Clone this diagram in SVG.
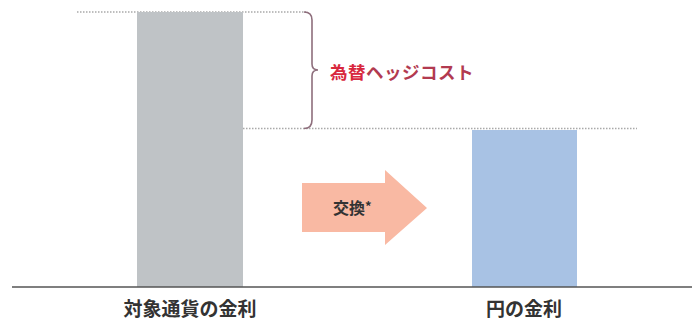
<svg xmlns="http://www.w3.org/2000/svg" width="692" height="321" viewBox="0 0 692 321">
<style>
.lbl{font-family:"Noto Sans CJK JP","Noto Sans",sans-serif;font-weight:bold;fill:#333;}
.dot{stroke:#a9a9a9;stroke-width:1.3;stroke-dasharray:1.5 1.5;fill:none;}
</style>
<rect width="692" height="321" fill="#ffffff"/>
<g id="guides">
<line class="dot" x1="77" y1="12" x2="306" y2="12"/>
<line class="dot" x1="243" y1="128.5" x2="637" y2="128.5"/>
</g>
<g id="bar-foreign">
<rect x="137" y="12" width="106" height="275" fill="#bfc3c6"/>
</g>
<g id="bar-yen">
<rect x="472" y="130" width="105" height="157" fill="#a8c2e4"/>
</g>
<g id="axis">
<line x1="12" y1="287" x2="692" y2="287" stroke="#555" stroke-width="1.5"/>
</g>
<g id="brace">
<path d="M304 12 Q312 12 312 20 L312 64 Q312 70 318 70 Q312 70 312 76 L312 120 Q312 128.5 304 128.5" fill="none" stroke="#8e6e7c" stroke-width="1.6"/>
</g>
<g id="hedge-label">
<text x="330" y="79" font-family="'Noto Sans CJK JP',sans-serif" font-weight="bold" font-size="17.5" letter-spacing="0.5"><tspan fill="#d8283e">為替</tspan><tspan fill="#b23a50">ヘッジコスト</tspan></text>
</g>
<g id="exchange-arrow">
<polygon points="302,183 385,183 385,170 427,208 385,245 385,232 302,232" fill="#f9b9a3"/>
<text x="333" y="214" class="lbl" font-size="16" fill="#3a2a2a">交換<tspan font-size="13" dy="-3">*</tspan></text>
</g>
<g id="label-foreign">
<text x="190" y="316" class="lbl" font-size="19" text-anchor="middle">対象通貨の金利</text>
</g>
<g id="label-yen">
<text x="524" y="316" class="lbl" font-size="19" text-anchor="middle">円の金利</text>
</g>
</svg>
